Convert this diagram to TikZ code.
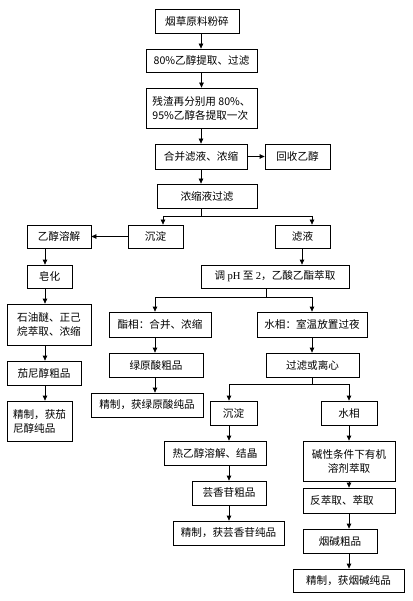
\documentclass[tikz,border=0pt]{standalone}
\usepackage{fontspec}
\setmainfont{Noto Sans CJK SC}
\newfontfamily\latserif{Liberation Serif}
\usetikzlibrary{arrows.meta}
\begin{document}
\begin{tikzpicture}[x=1pt,y=-1pt,
  box/.style={draw, line width=0.75pt, inner sep=0pt, align=center,
    font=\fontsize{10.6}{14}\selectfont},
  bx/.style 2 args={box, minimum width=#1pt, minimum height=#2pt},
  ln/.style={line width=0.75pt},
  arr/.style={ln, -{Triangle[length=5pt,width=4.5pt]}}]
\useasboundingbox (0,0) rectangle (412,601);
\fill[white] (0,0) rectangle (412,601);
% main column
\node[bx={84}{24}] (b1) at (197,21) {烟草原料粉碎};
\node[bx={111}{23}] (b2) at (201.5,60.5) {80\%乙醇提取、过滤};
\node[bx={111}{40}, align=left] (b3) at (201.5,108) {残渣再分别用 80\%、\\95\%乙醇各提取一次};
\node[bx={92}{25}] (b4) at (201,156.5) {合并滤液、浓缩};
\node[bx={65}{25}] (r1) at (297.5,156.5) {回收乙醇};
\node[bx={100}{24}] (b5) at (207,196) {浓缩液过滤};
% second level
\node[bx={55}{23}] (cd1) at (155.5,236.5) {沉淀};
\node[bx={55}{23}] (ly) at (302.5,236.5) {滤液};
\node[bx={64}{23}] (yc) at (59,236.5) {乙醇溶解};
\node[bx={45}{23}] (zh) at (49.5,276.5) {皂化};
\node[bx={84}{41}] (sy) at (49,324.5) {石油醚、正己\\烷萃取、浓缩};
\node[bx={74}{24}] (qn) at (44,373) {茄尼醇粗品};
\node[bx={65}{40}, align=left] (qc) at (39.5,421) {精制，获茄\\尼醇纯品};
\node[bx={148}{23}] (ph) at (275,276.5) {调 {\latserif pH} 至 {\latserif 2}，乙酸乙酯萃取};
\node[bx={102}{25}] (zx) at (160,324.5) {酯相：合并、浓缩};
\node[bx={110}{25}] (sx) at (312,324.5) {水相：室温放置过夜};
\node[bx={94}{24}] (ly2) at (156,365) {绿原酸粗品};
\node[bx={112}{24}] (lc) at (147,405) {精制，获绿原酸纯品};
\node[bx={93}{24}] (gl) at (312.5,365) {过滤或离心};
\node[bx={47}{24}] (cd2) at (233.5,413) {沉淀};
\node[bx={56}{24}] (sx2) at (349,413) {水相};
\node[bx={102}{24}] (rj) at (215,453) {热乙醇溶解、结晶};
\node[bx={74}{24}] (yx) at (229,493) {芸香苷粗品};
\node[bx={111}{24}] (yc2) at (228.5,533) {精制，获芸香苷纯品};
\node[bx={92}{40}] (js) at (349,461) {碱性条件下有机\\溶剂萃取};
\node[bx={92}{25}] (fc) at (349,500.5) {\hspace*{-14pt}反萃取、萃取};
\node[bx={74}{24}] (yj) at (340,541) {烟碱粗品};
\node[bx={111}{23}] (yjc) at (348.5,580.5) {精制，获烟碱纯品};
% junction coordinates
\coordinate (j1) at (201,216);
\coordinate (j2) at (266,297);
\coordinate (j3) at (312,384);
% connectors main column
\draw[arr] (201,0 |- b1.south) -- (201,0 |- b2.north);
\draw[arr] (b2) -- (b3);
\draw[arr] (201,0 |- b3.south) -- (201,0 |- b4.north);
\draw[arr] (b4) -- (r1);
\draw[arr] (201,0 |- b4.south) -- (201,0 |- b5.north);
\draw[ln] (201,0 |- b5.south) -- (j1);
\draw[ln] (163,0 |- j1) -- (312,0 |- j1);
\draw[arr] (163,0 |- j1) -- (163,0 |- cd1.north);
\draw[arr] (312,0 |- j1) -- (312,0 |- ly.north);
\draw[arr] (cd1) -- (yc);
% left branch
\draw[arr] (45,0 |- yc.south) -- (45,0 |- zh.north);
\draw[arr] (45,0 |- zh.south) -- (45,0 |- sy.north);
\draw[arr] (45,0 |- sy.south) -- (45,0 |- qn.north);
\draw[arr] (45,0 |- qn.south) -- (45,0 |- qc.north);
% right branch
\draw[arr] (302,0 |- ly.south) -- (302,0 |- ph.north);
\draw[ln] (266,0 |- ph.south) -- (j2);
\draw[ln] (155,0 |- j2) -- (312,0 |- j2);
\draw[arr] (155,0 |- j2) -- (155,0 |- zx.north);
\draw[arr] (312,0 |- j2) -- (312,0 |- sx.north);
\draw[arr] (155,0 |- zx.south) -- (155,0 |- ly2.north);
\draw[arr] (155,0 |- ly2.south) -- (155,0 |- lc.north);
\draw[arr] (312,0 |- sx.south) -- (312,0 |- gl.north);
\draw[ln] (312,0 |- gl.south) -- (j3);
\draw[ln] (229,0 |- j3) -- (349,0 |- j3);
\draw[arr] (229,0 |- j3) -- (229,0 |- cd2.north);
\draw[arr] (349,0 |- j3) -- (349,0 |- sx2.north);
\draw[arr] (229,0 |- cd2.south) -- (229,0 |- rj.north);
\draw[arr] (229,0 |- rj.south) -- (229,0 |- yx.north);
\draw[arr] (229,0 |- yx.south) -- (229,0 |- yc2.north);
\draw[arr] (349,0 |- sx2.south) -- (349,0 |- js.north);
\draw[arr] (349,0 |- js.south) -- (349,0 |- fc.north);
\draw[arr] (349,0 |- fc.south) -- (349,0 |- yj.north);
\draw[arr] (349,0 |- yj.south) -- (349,0 |- yjc.north);
\end{tikzpicture}
\end{document}
